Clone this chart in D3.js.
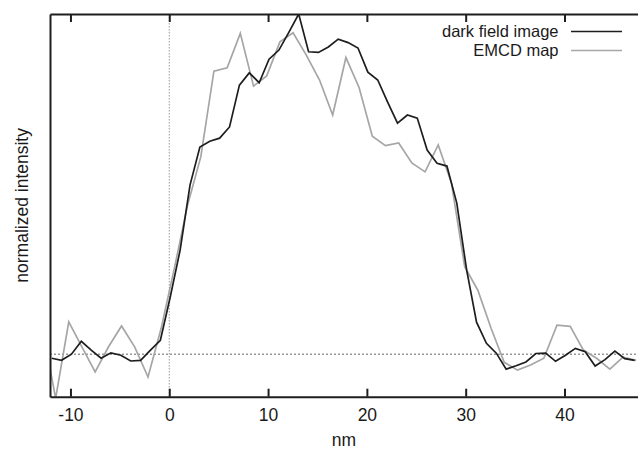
<!DOCTYPE html>
<html>
<head>
<meta charset="utf-8">
<script src="https://cdn.jsdelivr.net/npm/d3@7"></script>
<style>
  html, body { margin: 0; padding: 0; background: #fff; }
  #chart { width: 638px; height: 450px; }
  text { font-family: "Liberation Sans", Arial, sans-serif; fill: #1a1a1a; }
</style>
</head>
<body>
<div id="chart"></div>
<script>
// ============================================================================
// DATA
// ============================================================================

// dark field image: sampled about every 1 nm
const darkX = [
  -11.9, -10.9, -9.9, -8.9, -7.9, -6.9, -5.9, -4.9, -3.9, -2.9,
  -1.9, -0.9, 0.1, 1.1, 2.1, 3.1, 4.1, 5.1, 6.1, 7.1,
  8.1, 9.1, 10.1, 11.1, 12.1, 13.1, 14.1, 15.1, 16.1, 17.1,
  18.1, 19.1, 20.1, 21.1, 22.1, 23.1, 24.1, 25.1, 26.1, 27.1,
  28.1, 29.1, 30.1, 31.1, 32.1, 33.1, 34.1, 35.1, 36.1, 37.1,
  38.1, 39.1, 40.1, 41.1, 42.1, 43.1, 44.1, 45.1, 46.1, 47.1
];
const darkY = [
  -0.012, -0.018, 0.000, 0.038, 0.012, -0.012, 0.004, -0.003, -0.020, -0.018,
  0.012, 0.041, 0.168, 0.306, 0.497, 0.609, 0.626, 0.635, 0.668, 0.791,
  0.827, 0.798, 0.867, 0.894, 0.946, 1.000, 0.889, 0.887, 0.903, 0.926,
  0.916, 0.900, 0.829, 0.806, 0.741, 0.679, 0.703, 0.694, 0.600, 0.561,
  0.553, 0.444, 0.247, 0.094, 0.032, 0.003, -0.044, -0.034, -0.023, 0.002,
  0.003, -0.021, -0.003, 0.017, 0.007, -0.035, -0.016, 0.009, -0.013, -0.018
];

// EMCD map: coarser sampling, about 1.34 nm
const emcdX = [
  -12.84, -11.50, -10.17, -8.83, -7.50, -6.16, -4.83, -3.49, -2.15, -0.82,
  0.52, 1.85, 3.19, 4.52, 5.86, 7.19, 8.53, 9.86, 11.20, 12.53,
  13.87, 15.21, 16.54, 17.88, 19.21, 20.55, 21.88, 23.22, 24.55, 25.89,
  27.22, 28.56, 29.90, 31.23, 32.57, 33.90, 35.24, 36.57, 37.91, 39.24,
  40.58, 41.91, 43.25, 44.59, 45.92, 47.26
];
const emcdY = [
  0.079, -0.130, 0.095, 0.021, -0.052, 0.021, 0.083, 0.021, -0.067, 0.076,
  0.253, 0.438, 0.580, 0.832, 0.842, 0.943, 0.788, 0.818, 0.918, 0.945,
  0.879, 0.806, 0.703, 0.872, 0.784, 0.641, 0.613, 0.621, 0.562, 0.536,
  0.615, 0.503, 0.257, 0.188, 0.076, -0.024, -0.047, -0.032, -0.012, 0.085,
  0.082, 0.012, -0.012, -0.044, -0.009, -0.018
];

const xTicks = [-10, 0, 10, 20, 30, 40];
const xDomain = [-12.07, 47.44];
const yDomain = [-0.125, 1.0];

const seriesNames = ['dark field image', 'EMCD map'];
const seriesColors = ['#1e1e1e', '#a6a6a6'];

// ============================================================================
// CHART
// ============================================================================

const width = 638;
const height = 450;
const margin = { top: 14, right: 0, bottom: 53.3, left: 50 };
const axisColor = '#1e1e1e';

const svg = d3.select('#chart').append('svg')
  .attr('width', width)
  .attr('height', height)
  .attr('viewBox', `0 0 ${width} ${height}`);

const x = d3.scaleLinear()
  .domain(xDomain)
  .range([margin.left, width - margin.right]);

const y = d3.scaleLinear()
  .domain(yDomain)
  .range([height - margin.bottom, margin.top]);

svg.append('clipPath').attr('id', 'plot-clip')
  .append('rect')
  .attr('x', margin.left)
  .attr('y', margin.top)
  .attr('width', width - margin.left - margin.right)
  .attr('height', height - margin.top - margin.bottom);

// REFERENCE LINES (baseline and x = 0)
svg.append('line')
  .attr('x1', x.range()[0]).attr('x2', x.range()[1])
  .attr('y1', y(0)).attr('y2', y(0))
  .attr('stroke', '#666')
  .attr('stroke-width', 1)
  .attr('stroke-dasharray', '2,2');

svg.append('line')
  .attr('x1', x(0)).attr('x2', x(0))
  .attr('y1', y.range()[1]).attr('y2', y.range()[0])
  .attr('stroke', '#999')
  .attr('stroke-width', 1)
  .attr('stroke-dasharray', '1.5,1.5');

// SERIES
const line = d3.line()
  .x(d => x(d[0]))
  .y(d => y(d[1]));

const series = [
  d3.zip(emcdX, emcdY),
  d3.zip(darkX, darkY)
];
const seriesOrder = [1, 0]; // EMCD underneath, dark field on top

svg.append('g')
  .attr('clip-path', 'url(#plot-clip)')
  .selectAll('path')
  .data(series)
  .join('path')
  .attr('fill', 'none')
  .attr('stroke', (d, i) => seriesColors[seriesOrder[i]])
  .attr('stroke-width', 1.7)
  .attr('stroke-linejoin', 'miter')
  .attr('d', line);

// AXES
const bottomAxis = svg.append('g')
  .attr('transform', `translate(0,${y.range()[0]})`)
  .call(d3.axisBottom(x)
    .tickValues(xTicks)
    .tickFormat(d => String(d))
    .tickSize(-8)
    .tickSizeOuter(0)
    .tickPadding(11.5));

const topAxis = svg.append('g')
  .attr('transform', `translate(0,${y.range()[1]})`)
  .call(d3.axisTop(x)
    .tickValues(xTicks)
    .tickFormat('')
    .tickSize(-8)
    .tickSizeOuter(0));

[bottomAxis, topAxis].forEach(g => {
  g.select('.domain').attr('stroke', axisColor).attr('stroke-width', 2);
  g.selectAll('.tick line').attr('stroke', axisColor).attr('stroke-width', 2);
  g.selectAll('.tick text')
    .attr('fill', '#1a1a1a')
    .style('font-size', '17.5px')
    .style('font-family', '"Liberation Sans", Arial, sans-serif');
});

svg.append('g')
  .attr('transform', `translate(${x.range()[0]},0)`)
  .call(d3.axisLeft(y).tickValues([]).tickSizeOuter(0))
  .call(g => g.select('.domain').attr('stroke', axisColor).attr('stroke-width', 2));

// AXIS TITLES
svg.append('text')
  .attr('x', (x.range()[0] + x.range()[1]) / 2)
  .attr('y', 446)
  .attr('text-anchor', 'middle')
  .style('font-size', '17.5px')
  .text('nm');

svg.append('text')
  .attr('transform', `translate(27.5,${(y.range()[0] + y.range()[1]) / 2}) rotate(-90)`)
  .attr('text-anchor', 'middle')
  .style('font-size', '17.5px')
  .text('normalized intensity');

// LEGEND
const legend = svg.append('g');
seriesNames.forEach((name, i) => {
  const ly = 31.5 + i * 19;
  legend.append('text')
    .attr('x', 558.5)
    .attr('y', ly + 5)
    .attr('text-anchor', 'end')
    .style('font-size', '16.5px')
    .text(name);
  legend.append('line')
    .attr('x1', 571).attr('x2', 622)
    .attr('y1', ly).attr('y2', ly)
    .attr('stroke', seriesColors[i])
    .attr('stroke-width', 1.7);
});
</script>
</body>
</html>
